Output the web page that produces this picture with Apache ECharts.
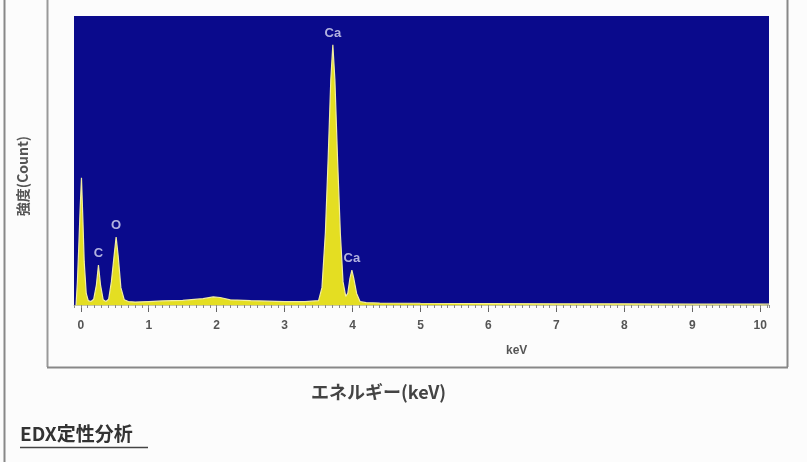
<!DOCTYPE html>
<html><head><meta charset="utf-8">
<script src="https://cdn.jsdelivr.net/npm/echarts@6/dist/echarts.min.js"></script>
<style>html,body{margin:0;padding:0;background:#fcfcfc;}#c{width:807px;height:462px;}</style>
</head><body><div id="c"></div>
<script>
// Spectrum: energy (keV) and intensity (counts, arbitrary)
const energy = [-0.07,-0.05,-0.03,-0.01,0.01,0.03,0.05,0.08,0.11,0.15,0.19,0.23,0.26,0.29,0.33,0.37,0.41,0.45,0.49,0.52,0.55,0.59,0.64,0.70,0.80,1.00,1.20,1.50,1.80,1.95,2.05,2.20,2.50,3.00,3.30,3.50,3.55,3.60,3.64,3.68,3.71,3.74,3.78,3.82,3.86,3.90,3.93,3.96,3.99,4.02,4.06,4.11,4.20,4.40,5.00,6.00,7.00,8.00,9.00,10.00,10.13];
const counts = [0,80,200,330,440,300,150,40,15,12,20,70,138,70,18,12,20,80,170,235,170,60,18,12,10,12,14,16,22,28,26,18,15,12,12,15,60,250,500,780,900,780,500,250,80,30,40,90,121,90,40,12,8,7,6,5,4,4,3,3,3];
// Peak labels
const peakNames = ['Ca','C','O','Ca'];
const peakE = [3.71,0.26,0.52,3.99];
const peakC = [900,138,235,121];
// Axis tick labels
const majorTicks = [0,1,2,3,4,5,6,7,8,9,10];

const chart = echarts.init(document.getElementById('c'));
const fontJP = '"Noto Sans CJK JP", "Noto Sans", sans-serif';
chart.setOption({
  backgroundColor: '#fcfcfc',
  animation: false,
  grid: {left: 74, right: 38, top: 16, bottom: 157, show: true, backgroundColor: '#0a0a8c', borderWidth: 0},
  xAxis: [{
    type: 'value', min: -0.1, max: 10.13,
    axisLine: {show: true, lineStyle: {color: '#c8c8a0', width: 1}},
    axisTick: {show: true, customValues: majorTicks, length: 7, lineStyle: {color: '#666'}},
    axisLabel: {customValues: majorTicks, color: '#555', fontSize: 12, fontWeight: 'bold', margin: 15, fontFamily: 'Liberation Sans, Arial'},
    splitLine: {show: false}
  },{
    type: 'value', min: -0.1, max: 10.13, interval: 0.1, position: 'bottom', offset: 0,
    axisLine: {show: false},
    axisTick: {show: true, length: 3, lineStyle: {color: '#888'}},
    axisLabel: {show: false},
    splitLine: {show: false}
  }],
  yAxis: {
    type: 'value', min: 0, max: 1000,
    axisLine: {show: false}, axisTick: {show: false}, axisLabel: {show: false}, splitLine: {show: false}
  },
  series: [{
    type: 'line', xAxisIndex: 0, showSymbol: false, symbol: 'none',
    data: energy.map((e, i) => [e, counts[i]]),
    lineStyle: {color: '#f2eea0', width: 1.2},
    areaStyle: {color: '#e4de22', opacity: 1},
    z: 3
  },{
    type: 'scatter', xAxisIndex: 0, symbolSize: 0,
    data: peakNames.map((n, i) => ({value: [peakE[i], peakC[i]], name: n})),
    label: {show: true, position: 'top', distance: 5, formatter: p => p.name, color: '#dcdcf4', fontSize: 13, fontWeight: 'bold', fontFamily: 'Liberation Sans, Arial'},
    z: 4
  }],
  graphic: [
    {type: 'line', shape: {x1: 4.5, y1: 0, x2: 4.5, y2: 462}, style: {stroke: '#888', lineWidth: 2}},
    {type: 'line', shape: {x1: 47.5, y1: 0, x2: 47.5, y2: 367}, style: {stroke: '#999', lineWidth: 2}},
    {type: 'line', shape: {x1: 787.5, y1: 0, x2: 787.5, y2: 367}, style: {stroke: '#888', lineWidth: 2}},
    {type: 'line', shape: {x1: 47, y1: 367.5, x2: 788, y2: 367.5}, style: {stroke: '#888', lineWidth: 2}},
    {type: 'text', x: 23, y: 176, rotation: Math.PI / 2, style: {text: '強度(Count)', fill: '#555', fontSize: 14, fontWeight: 'bold', fontFamily: fontJP, align: 'center', verticalAlign: 'middle'}},
    {type: 'text', left: 506, top: 345, style: {text: 'keV', fill: '#555', fontSize: 12, fontWeight: 'bold', fontFamily: 'Liberation Sans, Arial'}},
    {type: 'text', left: 311, top: 383, style: {text: 'エネルギー(keV)', fill: '#444', fontSize: 18, fontWeight: 'bold', fontFamily: fontJP}},
    {type: 'text', left: 20, top: 424, style: {text: 'EDX定性分析', fill: '#333', fontSize: 19, fontWeight: 'bold', fontFamily: fontJP}},
    {type: 'line', shape: {x1: 20, y1: 447.5, x2: 148, y2: 447.5}, style: {stroke: '#444', lineWidth: 1.5}}
  ]
});
</script></body></html>
